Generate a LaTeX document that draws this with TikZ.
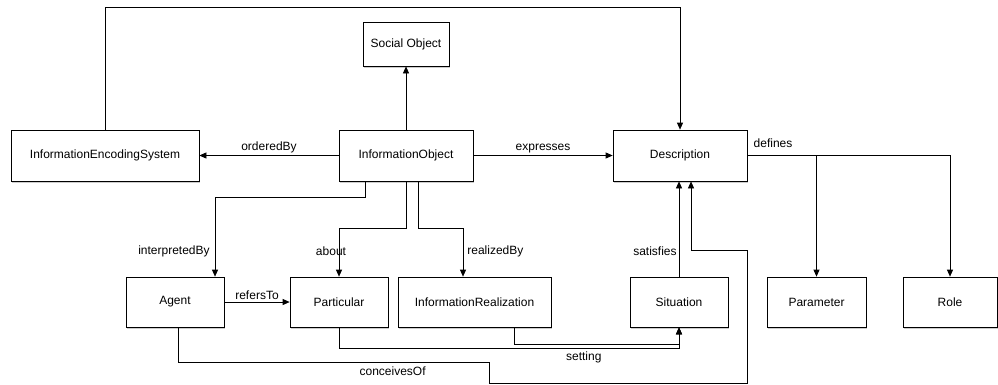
\documentclass[tikz,border=0pt]{standalone}
\usepackage{fontspec}
\setmainfont{Liberation Sans}
\usetikzlibrary{arrows.meta, shadows}

\tikzset{
  entity/.style={draw, line width=0.7pt, fill=white, minimum height=50pt, inner sep=2pt,
    font=\fontsize{12}{14}\selectfont,
    drop shadow={shadow xshift=1pt, shadow yshift=-1.5pt, opacity=0.4}},
  rel/.style={line width=0.7pt, -{Triangle[length=7pt,width=6pt]}},
  lbl/.style={font=\fontsize{12}{14}\selectfont, inner sep=2pt}
}

\begin{document}
\begin{tikzpicture}[x=1pt, y=-1pt]
\fill[white] (0,0) rectangle (998,384);
\useasboundingbox (0,0) rectangle (998,384);

% Classes
\node[entity, minimum width=86pt, minimum height=44pt] (social) at (406,44) {Social Object};
\node[entity, minimum width=188pt, minimum height=51pt] (ies) at (105,155.5) {InformationEncodingSystem};
\node[entity, minimum width=134pt, minimum height=51pt] (io) at (406,155.5) {InformationObject};
\node[entity, minimum width=134pt, minimum height=51pt] (desc) at (680,155.5) {Description};
\node[entity, minimum width=98pt] (agent) at (175,302) {Agent};
\node[entity, minimum width=98pt] (part) at (339,302) {Particular};
\node[entity, minimum width=153pt] (real) at (474.5,302) {InformationRealization};
\node[entity, minimum width=98pt] (sit) at (679,302) {Situation};
\node[entity, minimum width=99pt] (param) at (816.5,302) {Parameter};
\node[entity, minimum width=94pt] (role) at (950,302) {Role};

% Top row relations
\draw[rel] (ies.north) -- ++(0,-122.5) -| (desc.north);
\draw[rel] (io.north) -- (social.south);
\draw[rel] (io.west) -- node[lbl, above] {orderedBy} (ies.east);
\draw[rel] (io.east) -- node[lbl, above] {expresses} (desc.east -| desc.west);
\draw[rel] (desc.east) node[lbl, above right, xshift=4pt, yshift=6pt] {defines} -| (param.north);
\draw[rel] (desc.east) -| (role.north);

% From InformationObject downwards
\draw[rel] ([xshift=-41pt]io.south) -- ++(0,16) -| node[lbl, pos=0.84, left, xshift=-3pt] {interpretedBy} ([xshift=40pt]agent.north);
\draw[rel] (io.south) -- ++(0,47) -| node[lbl, pos=0.735, xshift=-8pt] {about} (part.north);
\draw[rel] ([xshift=12pt]io.south) -- ++(0,47) -| node[lbl, pos=0.735, right, xshift=2pt] {realizedBy} ([xshift=-11.5pt]real.north);

% Bottom row relations
\draw[rel] (agent.east) -- node[lbl, above] {refersTo} (part.west);
\draw[rel] (sit.north) -- node[lbl, pos=0.27, left] {satisfies} (sit.north |- desc.south);
\draw[rel] ([xshift=3pt]agent.south) -- ++(0,35) -- node[lbl, pos=0.69, below, yshift=-2pt] {conceivesOf} ++(311,0)
  -- ++(0,21) -- ++(258,0) -- ++(0,-133) -- ++(-56,0) -- ([xshift=11pt]desc.south);
\draw[rel] (part.south) -- ++(0,21) -| node[lbl, pos=0.36, below, yshift=-1pt] {setting} (sit.south);
\draw[rel] ([xshift=39.5pt]real.south) -- ++(0,17) -| (sit.south);

\end{tikzpicture}
\end{document}
